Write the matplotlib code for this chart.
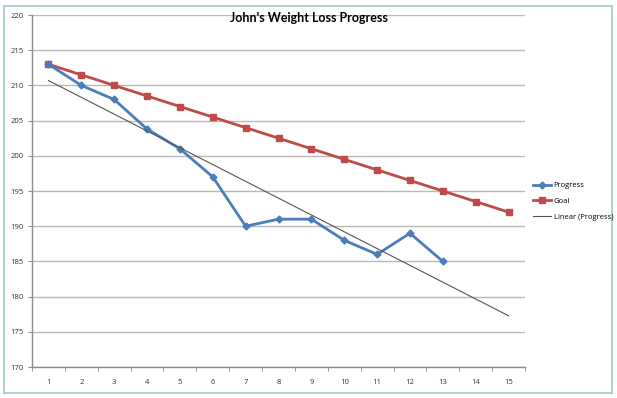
import numpy as np
import matplotlib
matplotlib.use("Agg")
import matplotlib.pyplot as plt
from matplotlib.patches import Rectangle

weeks = list(range(1, 16))
progress_x = list(range(1, 14))
progress = [213, 210, 208, 203.8, 201, 197, 190, 191, 191, 188, 186, 189, 185]
goal = [213, 211.5, 210, 208.5, 207, 205.5, 204, 202.5, 201, 199.5, 198, 196.5, 195, 193.5, 192]
y_ticks = [170, 175, 180, 185, 190, 195, 200, 205, 210, 215, 220]
title = "John's Weight Loss Progress"

plt.rcParams['font.family'] = ['Open Sans', 'DejaVu Sans']

W, H = 617, 398
fig = plt.figure(figsize=(W / 100, H / 100), dpi=100)
fig.patch.set_facecolor('white')

# outer chart border
fig.patches.append(Rectangle((4 / W, 5 / H), 608 / W, 387 / H, transform=fig.transFigure,
                             fill=False, edgecolor='#9ccbcb', linewidth=1.2))

left, right, top, bottom = 32, 525, 15, 367
ax = fig.add_axes([left / W, 1 - bottom / H, (right - left) / W, (bottom - top) / H])

ax.set_xlim(0.5, 15.5)
ax.set_ylim(170, 220)
ax.set_yticks(y_ticks)
ax.set_yticklabels([str(v) for v in y_ticks])
ax.set_xticks(weeks)
ax.set_xticklabels([str(v) for v in weeks])
ax.set_xticks(np.arange(0.5, 15.6, 1), minor=True)
ax.tick_params(axis='x', which='major', length=0, pad=9, labelsize=5.5, labelcolor='#333333')
ax.tick_params(axis='x', which='minor', length=3, color='#8c8c8c', direction='out')
ax.tick_params(axis='y', length=3, color='#8c8c8c', labelsize=5.5, labelcolor='#333333', pad=3)

ax.grid(axis='y', color='#b8b8b8', linewidth=1.0)
ax.set_axisbelow(True)
for s in ['top', 'right']:
    ax.spines[s].set_visible(False)
for s in ['left', 'bottom']:
    ax.spines[s].set_color('#8c8c8c')
    ax.spines[s].set_linewidth(1.0)

l1, = ax.plot(progress_x, progress, color='#4a7ebb', linewidth=2.0, marker='D',
              markersize=3.5, label='Progress', zorder=4)
l2, = ax.plot(weeks, goal, color='#be4b48', linewidth=2.0, marker='s',
              markersize=5, label='Goal', zorder=3)

coef = np.polyfit(progress_x, progress, 1)
xs = np.array([1, 15])
l3, = ax.plot(xs, np.polyval(coef, xs), color='#555555', linewidth=0.8,
              label='Linear (Progress)', zorder=5)

fig.text(309 / W, 1 - 18 / H, title, ha='center', va='center', fontsize=9,
         fontweight='bold', color='black', family=['Lato', 'DejaVu Sans'])

fig.legend(handles=[l1, l2, l3], loc='upper left', bbox_to_anchor=(530 / W, 1 - 179 / H),
           frameon=False, fontsize=5.5, handlelength=2.4, handletextpad=0.3,
           labelspacing=1.1, borderaxespad=0)

fig.savefig('out.png', dpi=100)
